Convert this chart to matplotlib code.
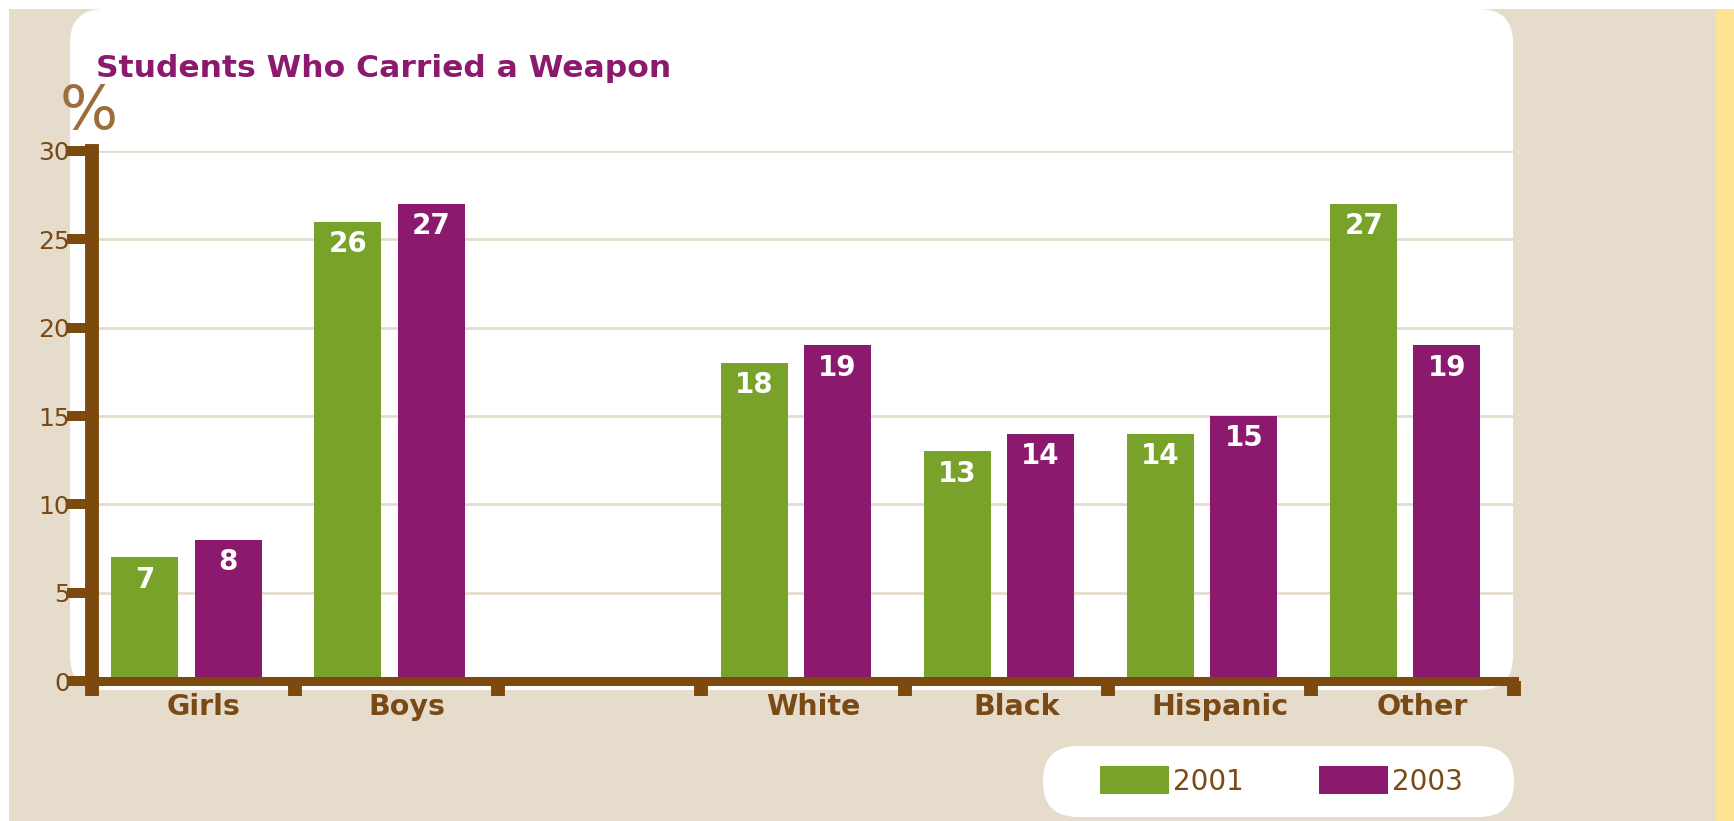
import matplotlib
matplotlib.use("Agg")
import matplotlib.pyplot as plt
import numpy as np
from matplotlib.patches import FancyBboxPatch, Rectangle

# -- Palette -------------------------------------------------------------
_BG = "#E5DCCB"
_PANEL = "#FFFFFF"
_STRIP = "#FFE395"
_GREEN = "#78A22A"
_PURPLE = "#8B196D"
_BROWN = "#7C4A0E"
_TEXT = "#7A4A16"
_PCT = "#9C6C3B"
_TITLE = "#8B1A6E"
_GRID = "#E5DCCB"

# -- Data ----------------------------------------------------------------
sex_groups = ["Girls", "Boys"]
race_groups = ["White", "Black", "Hispanic", "Other"]
pct_2001 = [7, 26, 18, 13, 14, 27]
pct_2003 = [8, 27, 19, 14, 15, 19]
years = ["2001", "2003"]
y_ticks = [0, 5, 10, 15, 20, 25, 30]

W, H, DPI = 1734, 821, 100
fig = plt.figure(figsize=(W / DPI, H / DPI), dpi=DPI, facecolor=_BG)

# background layer in pixel coords, origin at top-left
bg = fig.add_axes([0, 0, 1, 1], zorder=0)
bg.set_xlim(0, W)
bg.set_ylim(H, 0)
bg.axis("off")
bg.add_patch(Rectangle((0, 0), W, 9, color="white", lw=0))
bg.add_patch(Rectangle((0, 0), 9, H, color="white", lw=0))
bg.add_patch(Rectangle((1716, 9), W - 1716, H, color=_STRIP, lw=0))
bg.add_patch(FancyBboxPatch((70, 9), 1513 - 70, 690 - 9,
                            boxstyle="round,pad=0,rounding_size=34",
                            fc=_PANEL, ec="none"))
bg.add_patch(FancyBboxPatch((1043, 746), 1514 - 1043, 817 - 746,
                            boxstyle="round,pad=0,rounding_size=35",
                            fc=_PANEL, ec="none"))

# -- Main axes -----------------------------------------------------------
ax = fig.add_axes([92 / W, 1 - 681 / H, (1514 - 92) / W, (681 - 151) / H],
                  zorder=1)
ax.patch.set_alpha(0)

labels = sex_groups + race_groups
n_slots = len(sex_groups) + 1 + len(race_groups)   # one empty slot between groups
slots = np.array(list(range(len(sex_groups)))
                 + [len(sex_groups) + 1 + i for i in range(len(race_groups))])

b1 = ax.bar(slots + 0.26, pct_2001, width=0.33, color=_GREEN, zorder=2)
b2 = ax.bar(slots + 0.67, pct_2003, width=0.33, color=_PURPLE, zorder=2)

for bars, vals in ((b1, pct_2001), (b2, pct_2003)):
    for rect, v in zip(bars, vals):
        ax.annotate(str(v), (rect.get_x() + rect.get_width() / 2, v),
                    xytext=(0, -6), textcoords="offset points",
                    ha="center", va="top", color="white",
                    fontsize=20, fontweight="bold", zorder=3)

ax.set_xlim(0, n_slots)
ax.set_ylim(0, 30)
ax.set_yticks(y_ticks)
ax.set_xticks(range(n_slots + 1), [""] * (n_slots + 1))
ax.set_xticks(slots + 0.55, labels, minor=True)

ax.tick_params(axis="x", which="major", direction="out", length=10.5,
               width=10, color=_BROWN)
ax.tick_params(axis="x", which="minor", length=0, pad=8.5,
               labelsize=20.5, labelcolor=_TEXT)
ax.tick_params(axis="y", direction="out", length=18, width=7.2,
               color=_BROWN, pad=-2, labelsize=18, labelcolor=_TEXT)
for lbl in ax.get_xticklabels(minor=True):
    lbl.set_fontweight("bold")

ax.spines["left"].set_linewidth(10)
ax.spines["left"].set_color(_BROWN)
ax.spines["bottom"].set_linewidth(6.5)
ax.spines["bottom"].set_color(_BROWN)
ax.spines["top"].set_visible(False)
ax.spines["right"].set_visible(False)
ax.yaxis.grid(True, color=_GRID, linewidth=2)
ax.set_axisbelow(True)

# -- Titles --------------------------------------------------------------
fig.text(96 / W, 1 - 77 / H, "Students Who Carried a Weapon", color=_TITLE,
         fontsize=22.6, fontweight="bold", ha="left", va="baseline")
fig.text(89 / W, 1 - 112 / H, "%", color=_PCT, fontsize=44,
         ha="center", va="center")

# -- Legend --------------------------------------------------------------
fig.legend(handles=[b1, b2], labels=years, loc="center left",
           bbox_to_anchor=(1100 / W, 1 - 781 / H), ncol=2, frameon=False,
           fontsize=20, handlelength=2.48, handleheight=1.15,
           handletextpad=0.15, columnspacing=2.7, borderpad=0,
           borderaxespad=0, labelcolor=_TEXT)

fig.savefig("out.png", dpi=DPI, facecolor=fig.get_facecolor())
